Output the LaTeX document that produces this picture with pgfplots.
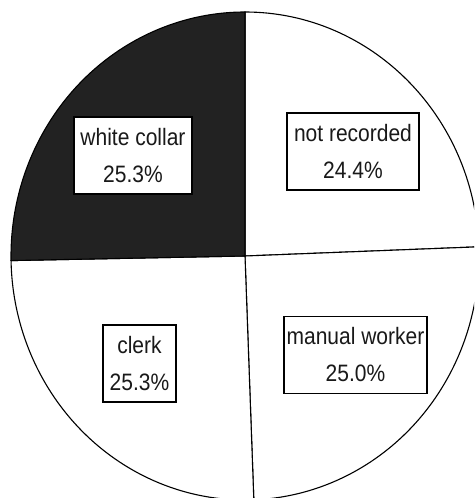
\documentclass[border=0pt]{standalone}
\usepackage{pgfplots}
\usepackage{pgfplotstable}
\usepackage{graphicx}
\usepackage{fontspec}
\setmainfont{Liberation Sans}
\pgfplotsset{compat=1.18}
\definecolor{darkslice}{HTML}{222222}
\pgfplotstableread{
share label
24.4 {not recorded}
25.0 {manual worker}
25.3 {clerk}
25.3 {white collar}
}\piedata
\pgfplotstablegetelem{0}{share}\of\piedata \let\sA\pgfplotsretval
\pgfplotstablegetelem{1}{share}\of\piedata \let\sB\pgfplotsretval
\pgfplotstablegetelem{2}{share}\of\piedata \let\sC\pgfplotsretval
\pgfplotstablegetelem{3}{share}\of\piedata \let\sD\pgfplotsretval
\pgfmathsetmacro\aA{90-3.6*\sA}
\pgfmathsetmacro\aB{\aA-3.6*\sB}
\pgfmathsetmacro\aC{\aB-3.6*\sC}
\pgfmathsetmacro\aD{\aC-3.6*\sD}
\newcommand\lbl[2]{\scalebox{1}[1.13]{#1}\\\scalebox{1}[1.13]{\pgfmathprintnumber[fixed,precision=1,fixed zerofill,assume math mode=true]{#2}\%}}
\begin{document}%
\begin{tikzpicture}
\begin{axis}[
  at={(0,0)}, anchor=south west,
  width=474pt, height=498pt, scale only axis,
  xmin=0, xmax=474, ymin=0, ymax=498,
  hide axis, clip=true,
]
\def\cx{245}\def\cy{242}
\begin{scope}
\clip (axis cs:0,0) rectangle (axis cs:474,498);
\filldraw[fill=white, draw=black, line width=1.1pt] (axis cs:\cx,\cy) -- ++(90:234pt and 244pt) arc[start angle=90, end angle=\aA, x radius=234pt, y radius=244pt] -- cycle;
\filldraw[fill=white, draw=black, line width=1.1pt] (axis cs:\cx,\cy) -- ++(\aA:234pt and 244pt) arc[start angle=\aA, end angle=\aB, x radius=234pt, y radius=244pt] -- cycle;
\filldraw[fill=white, draw=black, line width=1.1pt] (axis cs:\cx,\cy) -- ++(\aB:234pt and 244pt) arc[start angle=\aB, end angle=\aC, x radius=234pt, y radius=244pt] -- cycle;
\filldraw[fill=darkslice, draw=black, line width=1.1pt] (axis cs:\cx,\cy) -- ++(\aC:234pt and 244pt) arc[start angle=\aC, end angle=\aD, x radius=234pt, y radius=244pt] -- cycle;
\end{scope}
\tikzset{lab/.style={draw=black, fill=white, line width=1.1pt, align=center, inner sep=0pt, minimum height=77pt, font=\fontsize{21}{37}\selectfont, text=black!90}}
\node[lab, minimum width=132pt] at (axis cs:353,346.5) {\lbl{not recorded}{\sA}};
\node[lab, minimum width=143pt] at (axis cs:355.5,143) {\lbl{manual worker}{\sB}};
\node[lab, minimum width=73pt] at (axis cs:139.5,134.5) {\lbl{clerk}{\sC}};
\node[lab, minimum width=118pt] at (axis cs:133,342.5) {\lbl{white collar}{\sD}};
\end{axis}
\pgfresetboundingbox
\path[use as bounding box] (0,0) rectangle (474pt,498pt);
\end{tikzpicture}%
\end{document}
